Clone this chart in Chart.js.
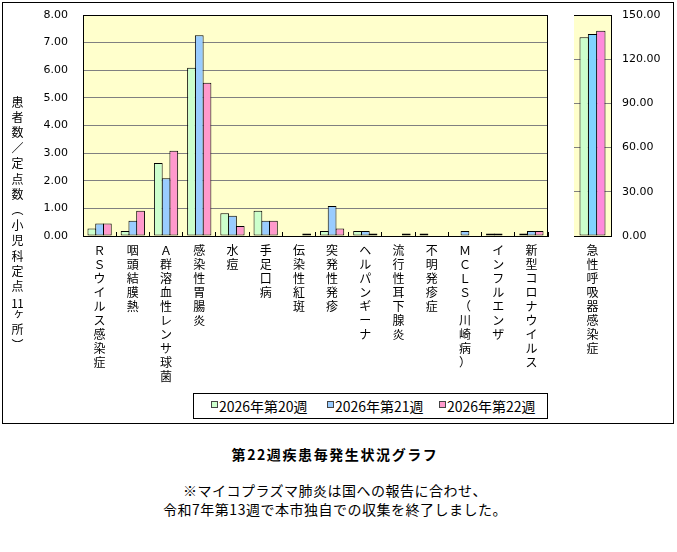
<!DOCTYPE html>
<html lang="ja">
<head>
<meta charset="utf-8">
<script src="https://cdn.jsdelivr.net/npm/chart.js@4.4.1/dist/chart.umd.min.js"></script>
<style>
  html, body { margin: 0; padding: 0; background: #fff; }
  body { width: 677px; height: 552px; position: relative; overflow: hidden; font-family: 'Noto Sans CJK JP', sans-serif; color: #000; }
  #frame { position: absolute; left: 2px; top: 2px; width: 672px; height: 422px; border: 1px solid #000; box-sizing: border-box; }
  #mainWrap { position: absolute; left: 0; top: 0; width: 560px; height: 392px; }
  #ariWrap { position: absolute; left: 560px; top: 0; width: 117px; height: 392px; }
  #ytitle { position: absolute; left: 10px; top: 96px; writing-mode: vertical-rl; font-size: 12px; letter-spacing: 3.4px; line-height: 14px; white-space: nowrap; }
  #ytitle .tcy { text-combine-upright: all; }
  #legend { position: absolute; left: 193px; top: 393px; width: 355px; height: 26px; border: 1px solid #000; box-sizing: border-box; background: #fff; }
  .li { position: absolute; top: 3px; font-size: 14px; line-height: 18px; white-space: nowrap; }
  .mk { position: absolute; top: 7px; width: 7px; height: 7px; border: 1px solid #444; box-sizing: border-box; }
  #title { position: absolute; left: 0; width: 670px; top: 445px; text-align: center; font-weight: bold; font-size: 14px; letter-spacing: 1.6px; line-height: 18px; }
  #note { position: absolute; left: 0; width: 670px; top: 481px; text-align: center; font-size: 14px; letter-spacing: 0.5px; line-height: 19px; }
</style>
</head>
<body>
<div id="frame"></div>
<div id="mainWrap"><canvas id="mainChart" width="560" height="392"></canvas></div>
<div id="ariWrap"><canvas id="ariChart" width="117" height="392"></canvas></div>
<div id="ytitle">患者数／定点数（小児科定点<span class="tcy">11</span>ヶ所）</div>
<div id="legend"></div>
<div id="title">第22週疾患毎発生状況グラフ</div>
<div id="note">※マイコプラズマ肺炎は国への報告に合わせ、<br>令和7年第13週で本市独自での収集を終了しました。</div>
<script>
// ---- data ----
const categories = ['ＲＳウイルス感染症','咽頭結膜熱','Ａ群溶血性レンサ球菌','感染性胃腸炎','水痘','手足口病','伝染性紅斑','突発性発疹','ヘルパンギーナ','流行性耳下腺炎','不明発疹症','ＭＣＬＳ（川崎病）','インフルエンザ','新型コロナウイルス'];
const seriesNames = ['2026年第20週','2026年第21週','2026年第22週'];
const week20 = [0.27, 0.18, 2.64, 6.09, 0.82, 0.91, 0.00, 0.18, 0.18, 0.00, 0.09, 0.00, 0.09, 0.09];
const week21 = [0.45, 0.55, 2.09, 7.27, 0.73, 0.55, 0.00, 1.09, 0.18, 0.00, 0.00, 0.18, 0.09, 0.18];
const week22 = [0.45, 0.91, 3.09, 5.55, 0.36, 0.55, 0.09, 0.27, 0.09, 0.09, 0.00, 0.00, 0.00, 0.18];
const ariCategories = ['急性呼吸器感染症'];
const ari20 = [134.91];
const ari21 = [137.18];
const ari22 = [139.27];
const mainTickValues = [0, 1, 2, 3, 4, 5, 6, 7, 8];
const ariTickValues = [0, 30, 60, 90, 120, 150];

// ---- styles ----
const mainColors = ['#CCFFCC', '#99CCFF', '#FF99CC'];
const ariColors = ['#CCFFCC', '#80D4FF', '#FF8ADC'];
const plotBg = '#FFFFCC';
const gridGray = '#808080';

const plotFrame = {
  id: 'plotFrame',
  beforeDraw(chart, args, opts) {
    const { ctx, chartArea: a } = chart;
    ctx.save();
    ctx.fillStyle = opts.fill || plotBg;
    ctx.fillRect(a.left, a.top, a.right - a.left, a.bottom - a.top);
    ctx.restore();
  },
  afterDraw(chart, args, opts) {
    const { ctx, chartArea: a } = chart;
    ctx.save();
    ctx.strokeStyle = '#000';
    ctx.lineWidth = 1;
    ctx.beginPath();
    const t = Math.round(a.top) + 0.5, b = Math.round(a.bottom) - 0.5;
    const l = Math.round(a.left) + 0.5, r = Math.round(a.right) - 0.5;
    (opts.sides || []).forEach(s => {
      if (s === 'top') { ctx.moveTo(l - 0.5, t); ctx.lineTo(r + 0.5, t); }
      if (s === 'right') { ctx.moveTo(r, t); ctx.lineTo(r, b + 0.5); }
      if (s === 'left') { ctx.moveTo(l, t); ctx.lineTo(l, b + 0.5); }
    });
    ctx.stroke();
    ctx.restore();
  }
};

const splitChars = s => Array.from(s);
const tickFont = { family: "'DejaVu Sans', sans-serif", size: 11 };
const catFont = { family: "'Noto Sans CJK JP', sans-serif", size: 12, lineHeight: '14px' };

function makeDatasets(arrs, colors, names) {
  return arrs.map((d, i) => ({
    label: names[i],
    data: d,
    backgroundColor: colors[i],
    borderColor: '#000',
    borderWidth: 1,
    borderSkipped: false,
    inflateAmount: 0
  }));
}

// place the plot area at the wanted pixel box inside its canvas
function pin(chart, box) {
  for (let k = 0; k < 3; k++) {
    const a = chart.chartArea;
    const p = chart.options.layout.padding;
    const dt = box.top - a.top, dl = box.left - a.left;
    const dr = a.right - box.right, db = a.bottom - box.bottom;
    if (Math.abs(dt) + Math.abs(dl) + Math.abs(dr) + Math.abs(db) < 0.5) break;
    p.top += dt; p.left += dl; p.right += dr; p.bottom += db;
    chart.update('none');
  }
}

function fixY(width) {
  return function (scale) {
    scale.width = width;
    scale.paddingTop = 0;
    scale.paddingBottom = 0;
  };
}

const mainChart = new Chart(document.getElementById('mainChart'), {
  type: 'bar',
  data: {
    labels: categories.map(splitChars),
    datasets: makeDatasets([week20, week21, week22], mainColors, seriesNames)
  },
  options: {
    responsive: false,
    animation: false,
    devicePixelRatio: 1,
    categoryPercentage: 0.7,
    barPercentage: 1.13,
    layout: { padding: { left: 0, right: 12, top: 15, bottom: 0 } },
    plugins: {
      legend: { display: false },
      tooltip: { enabled: false },
      plotFrame: { sides: ['top', 'right'] }
    },
    scales: {
      x: {
        offset: true,
        grid: { display: true, drawOnChartArea: false, drawTicks: true, tickLength: -4, offset: true, color: '#000' },
        border: { display: true, color: '#000', width: 1 },
        ticks: { font: catFont, color: '#000', maxRotation: 0, minRotation: 0, autoSkip: false, padding: 11 },
        afterFit(scale) { scale.height = 156; }
      },
      y: {
        min: 0, max: 8,
        afterBuildTicks(scale) { scale.ticks = mainTickValues.map(v => ({ value: v })); },
        grid: { color: gridGray, lineWidth: 1, drawTicks: false },
        border: { display: true, color: '#000', width: 1 },
        ticks: { font: tickFont, color: '#000', padding: 15, callback: v => Number(v).toFixed(2) },
        afterFit: fixY(83)
      }
    }
  },
  plugins: [plotFrame]
});
pin(mainChart, { left: 83, right: 548, top: 15, bottom: 236 });

const ariChart = new Chart(document.getElementById('ariChart'), {
  type: 'bar',
  data: {
    labels: ariCategories.map(splitChars),
    datasets: makeDatasets([ari20, ari21, ari22], ariColors, seriesNames)
  },
  options: {
    responsive: false,
    animation: false,
    devicePixelRatio: 1,
    categoryPercentage: 0.676,
    barPercentage: 1.12,
    layout: { padding: { left: 14, right: 0, top: 15, bottom: 0 } },
    plugins: {
      legend: { display: false },
      tooltip: { enabled: false },
      plotFrame: { sides: ['top'] }
    },
    scales: {
      x: {
        grid: { display: false, drawTicks: false },
        border: { display: true, color: '#000', width: 1 },
        ticks: { font: catFont, color: '#000', maxRotation: 0, minRotation: 0, autoSkip: false, padding: 7 },
        afterFit(scale) { scale.height = 156; }
      },
      y: {
        position: 'right',
        min: 0, max: 150,
        afterBuildTicks(scale) { scale.ticks = ariTickValues.map(v => ({ value: v })); },
        grid: { color: gridGray, lineWidth: 1, drawTicks: false },
        border: { display: true, color: '#000', width: 1 },
        ticks: { font: tickFont, color: '#000', padding: 11, callback: v => Number(v).toFixed(2) },
        afterFit: fixY(66)
      }
    }
  },
  plugins: [plotFrame]
});
pin(ariChart, { left: 14, right: 51, top: 15, bottom: 236 });

// ---- legend (HTML) ----
const legend = document.getElementById('legend');
const markerX = [17, 133, 245];
seriesNames.forEach((name, i) => {
  const mk = document.createElement('div');
  mk.className = 'mk';
  mk.style.left = markerX[i] + 'px';
  mk.style.background = mainColors[i];
  legend.appendChild(mk);
  const t = document.createElement('div');
  t.className = 'li';
  t.style.left = (markerX[i] + 8) + 'px';
  t.textContent = name;
  legend.appendChild(t);
});
</script>
</body>
</html>
